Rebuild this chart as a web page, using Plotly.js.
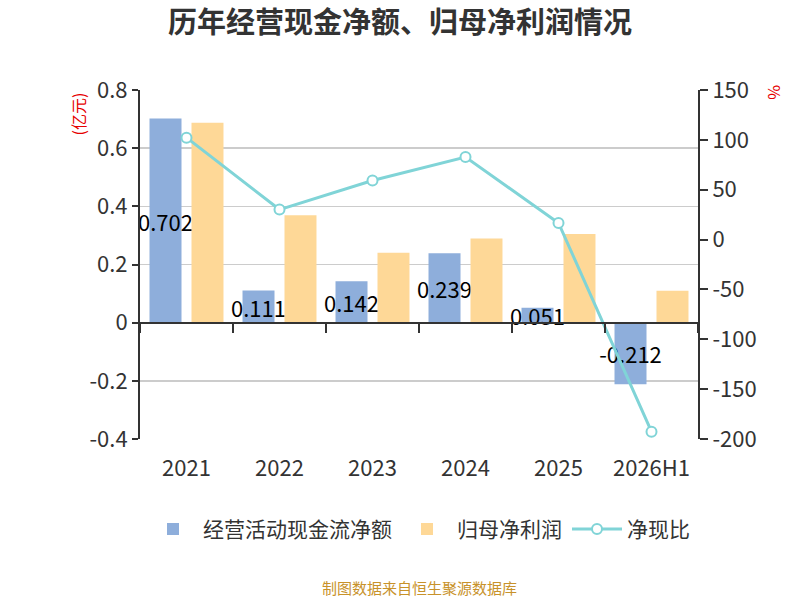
<!DOCTYPE html>
<html>
<head>
<meta charset="utf-8">
<script src="https://cdn.plot.ly/plotly-3.0.1.min.js"></script>
<style>
  body { margin: 0; background: #fff; }
  #chart { width: 800px; height: 600px; }
</style>
</head>
<body>
<div id="chart"></div>
<script>
  const years = ['2021', '2022', '2023', '2024', '2025', '2026H1'];
  const cashFlow = [0.702, 0.111, 0.142, 0.239, 0.051, -0.212];   // 经营活动现金流净额 (亿元)
  const netProfit = [0.687, 0.369, 0.240, 0.289, 0.305, 0.110];   // 归母净利润 (亿元)
  const cashRatio = [102.2, 30.1, 59.2, 82.7, 16.7, -192.7];      // 净现比 (%)

  const leftTicks = [-0.4, -0.2, 0, 0.2, 0.4, 0.6, 0.8];
  const leftTickText = ['-0.4', '-0.2', '0', '0.2', '0.4', '0.6', '0.8'];
  const rightTicks = [-200, -150, -100, -50, 0, 50, 100, 150];
  const rightTickText = ['-200', '-150', '-100', '-50', '0', '50', '100', '150'];

  const axisColor = '#333333';
  const font = 'Microsoft YaHei, "Noto Sans CJK SC", sans-serif';

  const traces = [
    {
      type: 'bar', name: '经营活动现金流净额', x: years, y: cashFlow,
      marker: {color: '#8eaedb'},
      text: cashFlow.map(v => v.toFixed(3)),
      textposition: 'inside', insidetextanchor: 'middle', textangle: 0,
      textfont: {color: '#000', size: 22, family: font},
      hoverinfo: 'y'
    },
    {
      type: 'bar', name: '归母净利润', x: years, y: netProfit,
      marker: {color: '#fed897'},
      hoverinfo: 'y'
    },
    {
      type: 'scatter', mode: 'lines+markers', name: '净现比', x: years, y: cashRatio,
      yaxis: 'y2',
      line: {color: '#80d4d7', width: 3},
      marker: {symbol: 'circle', size: 10, color: '#fff', line: {color: '#80d4d7', width: 2}}
    }
  ];

  const layout = {
    width: 800, height: 600,
    margin: {l: 140, r: 102, t: 90, b: 161},
    paper_bgcolor: '#fff', plot_bgcolor: '#fff',
    font: {family: font, color: axisColor, size: 20},
    title: {text: '<b>历年经营现金净额、归母净利润情况</b>', x: 0.5, xanchor: 'center',
            y: 0.962, yanchor: 'middle', font: {size: 29, color: '#333'}},
    barmode: 'group', bargap: 0.097, bargroupgap: 0.238,
    uniformtext: {mode: 'show', minsize: 22},
    showlegend: true,
    legend: {orientation: 'h', x: 0.5, xanchor: 'center', y: -0.2, yanchor: 'top',
             font: {size: 21}, itemwidth: 50, traceorder: 'normal'},
    xaxis: {
      type: 'category', showgrid: false, showline: false, ticks: '', zeroline: false,
      ticklabelstandoff: 14, tickfont: {size: 22}
    },
    xaxis2: {
      type: 'category', overlaying: 'x', matches: 'x', anchor: 'free', position: 1 / 3,
      showticklabels: false, showline: true, linecolor: axisColor, linewidth: 2,
      ticks: 'outside', tickson: 'boundaries', ticklen: 9, tickwidth: 2, tickcolor: axisColor,
      showgrid: false, zeroline: false
    },
    yaxis: {
      range: [-0.4, 0.8], tickmode: 'array', tickvals: leftTicks, ticktext: leftTickText,
      showgrid: true, gridcolor: '#cccccc', gridwidth: 1.5,
      showline: true, linecolor: axisColor, linewidth: 2,
      ticks: 'outside', ticklen: 6, tickwidth: 2, tickcolor: axisColor,
      zeroline: false, tickfont: {size: 22}
    },
    yaxis2: {
      overlaying: 'y', side: 'right', range: [-200, 150],
      tickmode: 'array', tickvals: rightTicks, ticktext: rightTickText,
      showgrid: false, zeroline: false,
      showline: true, linecolor: axisColor, linewidth: 2,
      ticks: 'outside', ticklen: 8, tickwidth: 2, tickcolor: axisColor,
      tickfont: {size: 22}
    },
    annotations: [
      {text: '(亿元)', xref: 'paper', yref: 'paper', x: -0.111, y: 0.93,
       xanchor: 'center', yanchor: 'middle', textangle: -90,
       showarrow: false, font: {color: '#e60000', size: 16}},
      {text: '%', xref: 'paper', yref: 'paper', x: 1.138, y: 0.994,
       xanchor: 'center', yanchor: 'middle', textangle: 90,
       showarrow: false, font: {color: '#e60000', size: 16}},
      {text: '制图数据来自恒生聚源数据库', xref: 'paper', yref: 'paper', x: 0.5, y: -0.425,
       yanchor: 'middle', showarrow: false, font: {color: '#c8922a', size: 15}}
    ]
  };

  // empty trace on xaxis2 so the zero-line axis with boundary ticks is drawn
  traces.push({type: 'scatter', x: years, y: years.map(() => null), xaxis: 'x2',
               showlegend: false, hoverinfo: 'skip'});

  Plotly.newPlot('chart', traces, layout, {displayModeBar: false, staticPlot: true});
</script>
</body>
</html>
